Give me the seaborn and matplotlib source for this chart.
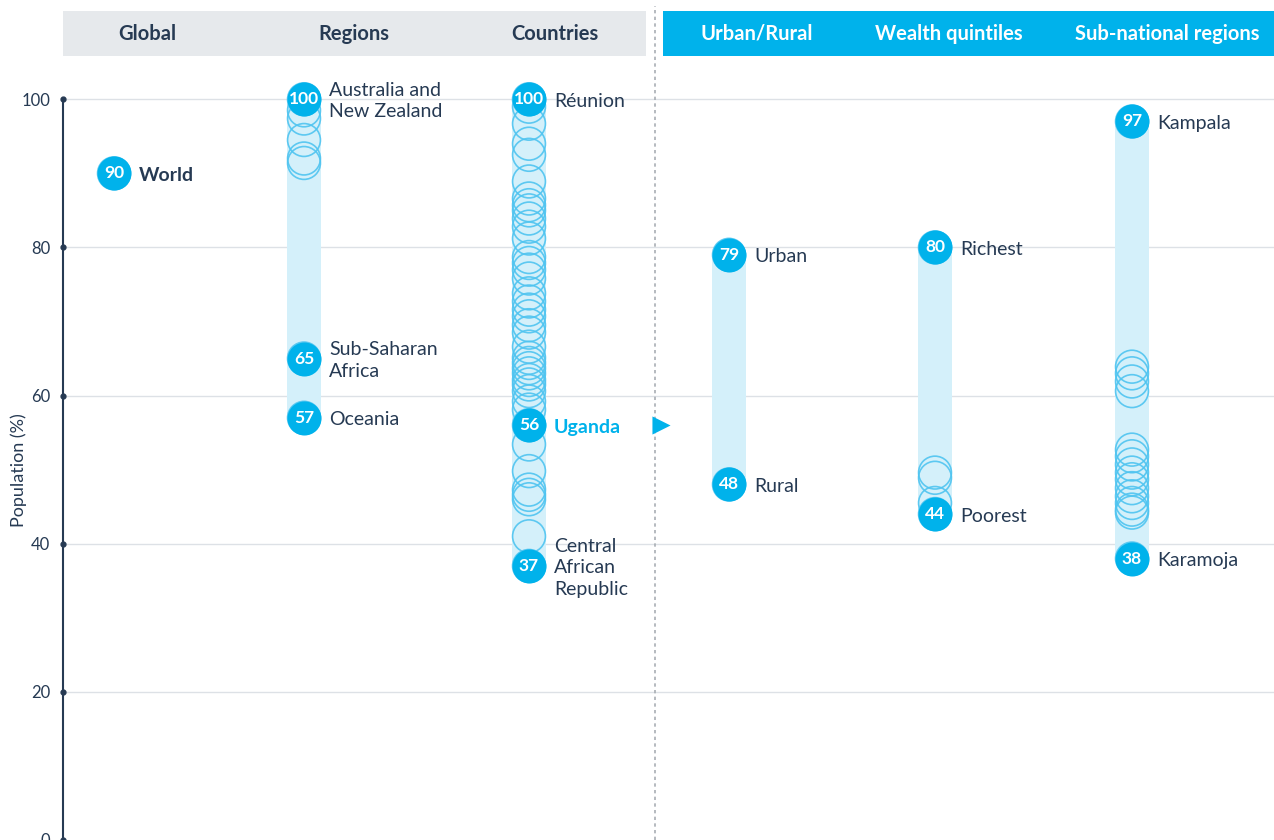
import numpy as np
import pandas as pd
import matplotlib.pyplot as plt
from matplotlib.patches import Rectangle
import seaborn as sns

# Data (% population)
groups = ["Global", "Regions", "Countries", "Urban/Rural", "Wealth quintiles", "Sub-national regions"]
global_vals = [90]
region_vals = [100, 98.5, 97.4, 94.5, 92.0, 91.4, 65, 57]
country_vals = [100, 99, 96.7, 94.0, 92.5, 88.9, 86.6, 85.7, 85.0, 83.9, 82.8, 81.2,
                78.7, 77.9, 77.0, 75.8, 73.8, 72.7, 71.6, 70.7, 69.5, 68.5, 66.6, 65.1,
                64.4, 63.7, 63.0, 62.1, 61.5, 60.6, 59.2, 58.1, 56, 53.4, 49.8, 47.3,
                46.6, 46.0, 41.0, 37]
urban_rural_vals = [79, 48]
wealth_vals = [80, 49.6, 48.9, 45.5, 44]
subnat_vals = [97, 63.9, 63.0, 61.9, 60.6, 52.7, 51.8, 50.7, 49.6, 48.7, 47.5, 46.4,
               45.5, 44.6, 44.2, 38]

# highlighted points: (group, value, label)
hl_groups = ["Global", "Regions", "Regions", "Regions", "Countries", "Countries", "Countries",
             "Urban/Rural", "Urban/Rural", "Wealth quintiles", "Wealth quintiles",
             "Sub-national regions", "Sub-national regions"]
hl_values = [90, 100, 65, 57, 100, 56, 37, 79, 48, 80, 44, 97, 38]
hl_labels = ["World", "Australia and\nNew Zealand", "Sub-Saharan\nAfrica", "Oceania",
             "Réunion", "Uganda", "Central\nAfrican\nRepublic", "Urban", "Rural",
             "Richest", "Poorest", "Kampala", "Karamoja"]

# layout (pixel-based x positions)
W, H = 1274, 840
col_x = {"Global": 114, "Regions": 304, "Countries": 529, "Urban/Rural": 729,
         "Wealth quintiles": 935, "Sub-national regions": 1132}
head_x = {"Global": 147, "Regions": 354, "Countries": 555, "Urban/Rural": 757,
          "Wealth quintiles": 949, "Sub-national regions": 1167}

BLUE = "#00b2eb"
RING = "#4fc4f0"
BAND = "#d4f0fa"
NAVY = "#263a53"

all_vals = [global_vals, region_vals, country_vals, urban_rural_vals, wealth_vals, subnat_vals]
df = pd.concat([pd.DataFrame({"group": g, "value": v}) for g, v in zip(groups, all_vals)],
               ignore_index=True)
df["x"] = df["group"].map(col_x)
hl = pd.DataFrame({"group": hl_groups, "value": hl_values, "label": hl_labels})
hl["x"] = hl["group"].map(col_x)

sns.set_theme(style="white")
plt.rcParams["font.family"] = ["Lato", "DejaVu Sans"]

fig = plt.figure(figsize=(W / 100, H / 100), dpi=100)
ax = fig.add_axes([63 / W, 0, 1 - 63 / W, 1])
px = 840 / 113.4
ax.set_xlim(63, W)
ax.set_ylim(0, 113.4)

# gridlines
for t in [20, 40, 60, 80, 100]:
    ax.axhline(t, color="#dde1e6", lw=1, zorder=0)

# range bands
rng = df.groupby("group")["value"].agg(["min", "max"]).reset_index()
rng["x"] = rng["group"].map(col_x)
rng = rng[rng["max"] > rng["min"]]
ax.bar(rng["x"], rng["max"] - rng["min"], bottom=rng["min"], width=34,
       color=BAND, zorder=1, linewidth=0)

# open rings for all values
sns.scatterplot(data=df, x="x", y="value", s=560, color=RING, linewidth=1.2,
                ax=ax, zorder=2, legend=False)
rings = ax.collections[-1]
rings.set_facecolor("none")
rings.set_edgecolor(RING)
rings.set_alpha(0.9)

# highlighted filled circles
sns.scatterplot(data=hl, x="x", y="value", s=600, color=BLUE, linewidth=0,
                ax=ax, zorder=3, legend=False)
for _, r in hl.iterrows():
    ax.text(r["x"], r["value"], f"{r['value']:.0f}", color="white", fontsize=12.5,
            fontweight="bold", ha="center", va="center", zorder=4)
    style = dict(color=NAVY, fontsize=14)
    if r["label"] == "World":
        style["fontweight"] = "bold"
    if r["label"] == "Uganda":
        style.update(color=BLUE, fontweight="bold")
    ax.text(r["x"] + 25, r["value"] - 2 / px, r["label"], ha="left", va="center",
            linespacing=1.3, zorder=4, **style)

# Uganda pointer
ax.scatter([661], [56], marker=">", s=170, color=BLUE, linewidth=0, clip_on=False, zorder=4)

# dashed separator
ax.plot([655, 655], [0, 113.4 - 6 / px], ls=(0, (2, 2)), color="#a9aeb4", lw=1.2,
        clip_on=False, zorder=1)

# axis styling
sns.despine(ax=ax, left=False, bottom=True)
ax.spines["left"].set_bounds(0, 100)
ax.spines["left"].set_color(NAVY)
ax.spines["left"].set_linewidth(1.5)
ax.set_xticks([])
ax.set_yticks([0, 20, 40, 60, 80, 100])
ax.tick_params(axis="y", length=0, pad=9, labelsize=12, labelcolor=NAVY)
ax.plot([63] * 6, [0, 20, 40, 60, 80, 100], "o", ms=3.5, color=NAVY, clip_on=False, zorder=5)
ax.set_xlabel("")
ax.set_ylabel("Population (%)", fontsize=13, color=NAVY)
ax.yaxis.set_label_coords(-36 / (W - 63), 50 / 113.4)

# header bands
fig.add_artist(Rectangle((63 / W, 1 - 56 / H), (646 - 63) / W, 45 / H,
                         transform=fig.transFigure, color="#e6e9ec", lw=0))
fig.add_artist(Rectangle((663 / W, 1 - 56 / H), (W - 663) / W, 45 / H,
                         transform=fig.transFigure, color=BLUE, lw=0))
for g in groups:
    c = NAVY if col_x[g] < 655 else "white"
    fig.text(head_x[g] / W, 1 - 34 / H, g, ha="center", va="center",
             fontsize=14.5, fontweight="bold", color=c)

fig.savefig("out.png", dpi=100)
